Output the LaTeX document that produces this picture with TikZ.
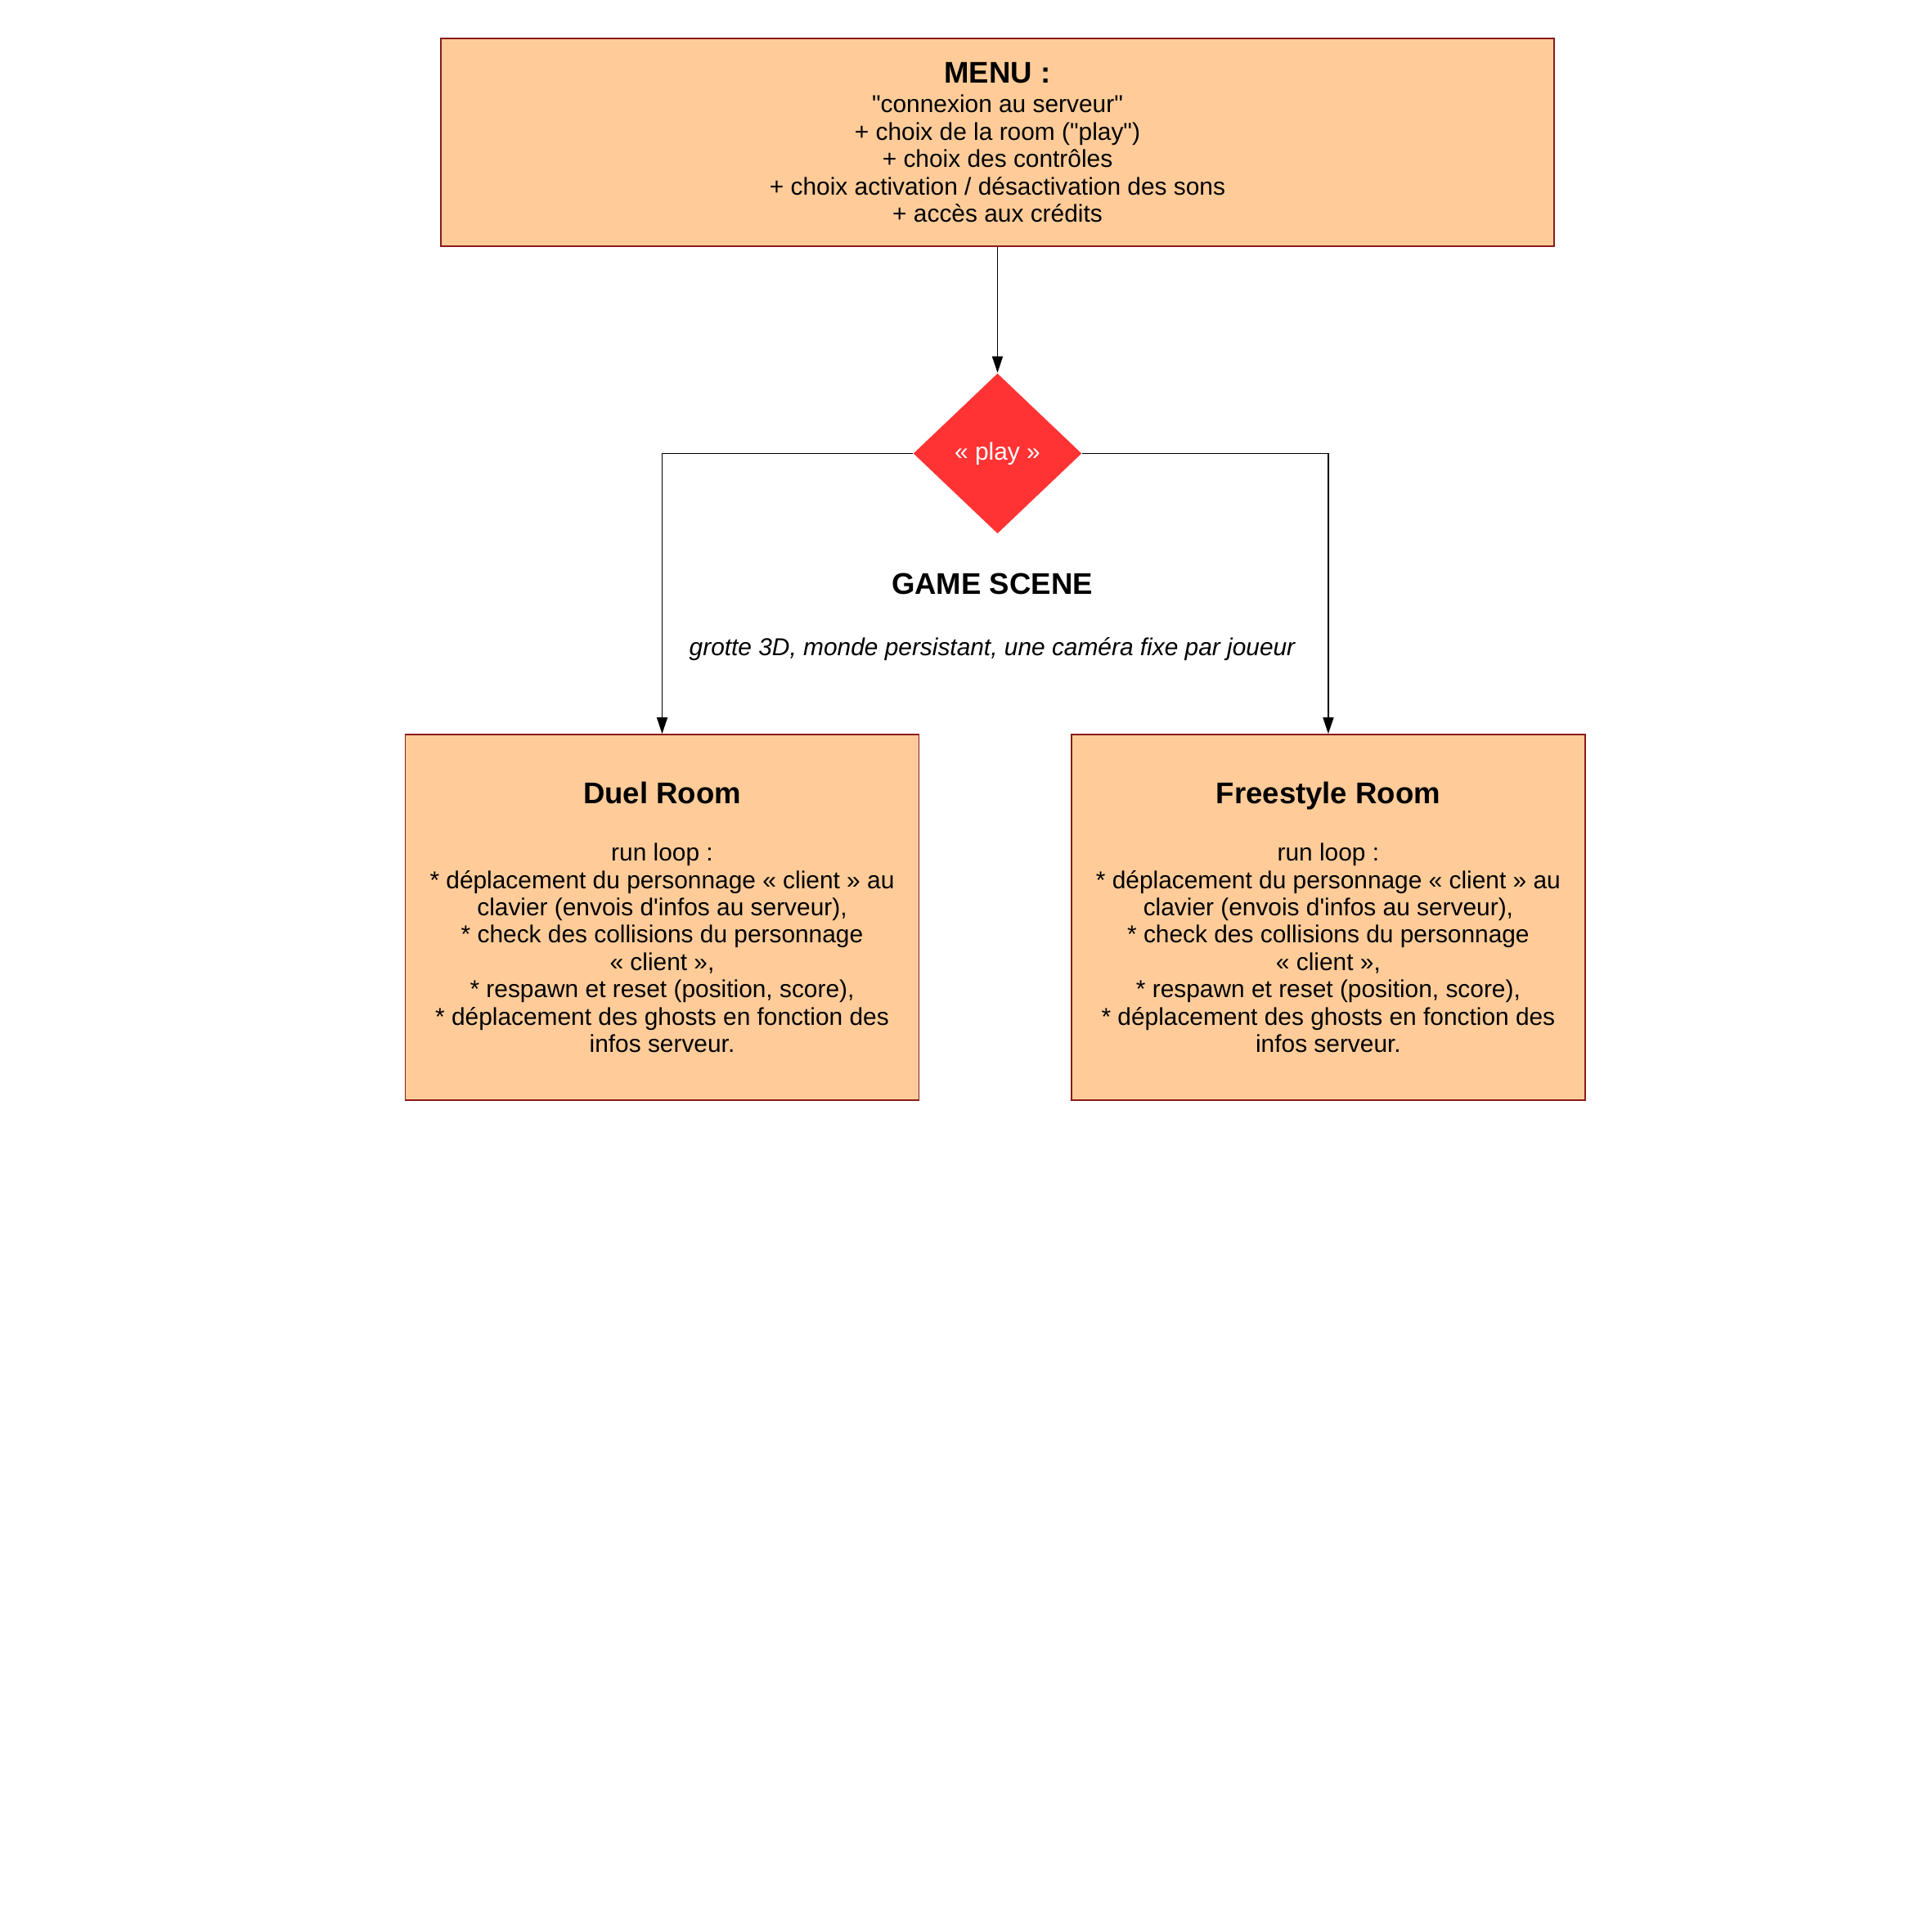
\documentclass[tikz,border=0pt]{standalone}
\usepackage{fontspec}
\setmainfont{Liberation Sans}
\usepackage{xcolor}
\usepackage{tikz}
\usetikzlibrary{arrows.meta,positioning,shapes.geometric}
\definecolor{xpeach}{HTML}{FFCC99}
\definecolor{xborder}{HTML}{8B1A1A}
\definecolor{xred}{HTML}{FF3333}

\begin{document}
\begin{tikzpicture}[
    >={Triangle[length=0.2cm,width=0.13cm]},
    block/.style={rectangle, draw=xborder, line width=0.4pt, fill=xpeach, align=center, inner sep=0pt, font=\fontsize{8.5}{9.5}\selectfont},
    decision/.style={diamond, aspect=1, fill=xred, inner sep=0pt, minimum width=2.06cm, minimum height=1.96cm, text=white, font=\fontsize{8.5}{9.5}\selectfont},
    pipe/.style={->, line width=0.45pt, black},
    label/.style={align=center, inner sep=0pt},
]
\useasboundingbox (0,0) rectangle (23.62,-23.62);

% --- Menu ---
\node[block, minimum width=13.61cm, minimum height=2.54cm] (menu) at (12.195,-1.74)
  {{\fontsize{10.4}{12}\selectfont\bfseries MENU :}\\[0.03cm]
   \textquotedbl connexion au serveur\textquotedbl\\
   + choix de la room (\textquotedbl play\textquotedbl)\\
   + choix des contrôles\\
   + choix activation / désactivation des sons\\
   + accès aux crédits};

% --- Decision ---
\node[decision, below=1.54cm of menu] (play) {« play »};

% --- Game scene labels ---
\node[label, font=\fontsize{10.4}{12}\selectfont\bfseries] (scene) at (12.13,-7.14) {GAME SCENE};
\node[label, font=\fontsize{8.5}{9.5}\selectfont\itshape] (desc) at (12.13,-7.94) {grotte 3D, monde persistant, une caméra fixe par joueur};

% --- Rooms ---
\node[block, minimum width=6.28cm, minimum height=4.47cm, below=2.44cm of play, xshift=-4.1cm] (duel)
  {{\fontsize{10.4}{12}\selectfont\bfseries Duel Room}\\[0.37cm]
   run loop :\\
   * déplacement du personnage « client » au\\
   clavier (envois d\textquotesingle infos au serveur),\\
   * check des collisions du personnage\\
   « client »,\\
   * respawn et reset (position, score),\\
   * déplacement des ghosts en fonction des\\
   infos serveur.};
\node[block, minimum width=6.28cm, minimum height=4.47cm, right=1.85cm of duel] (free)
  {{\fontsize{10.4}{12}\selectfont\bfseries Freestyle Room}\\[0.37cm]
   run loop :\\
   * déplacement du personnage « client » au\\
   clavier (envois d\textquotesingle infos au serveur),\\
   * check des collisions du personnage\\
   « client »,\\
   * respawn et reset (position, score),\\
   * déplacement des ghosts en fonction des\\
   infos serveur.};

% --- Arrows ---
\draw[pipe] (menu.south) -- (play.north);
\draw[pipe] (play.west) -| (duel.north);
\draw[pipe] (play.east) -| (free.north);

\end{tikzpicture}
\end{document}
